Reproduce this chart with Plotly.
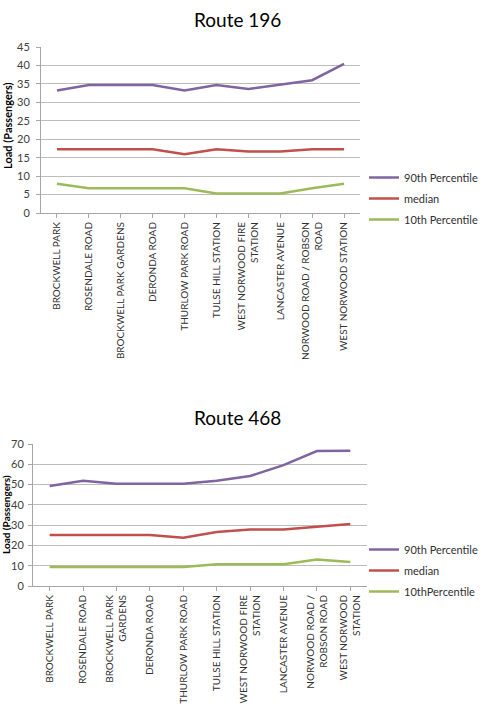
import plotly.graph_objects as go

W, H = 483, 707

stops_196 = ["BROCKWELL PARK", "ROSENDALE ROAD", "BROCKWELL PARK GARDENS", "DERONDA ROAD",
             "THURLOW PARK ROAD", "TULSE HILL STATION", "WEST NORWOOD FIRE<br>STATION",
             "LANCASTER AVENUE", "NORWOOD ROAD / ROBSON<br>ROAD", "WEST NORWOOD STATION"]
p90_196 = [33.2, 34.7, 34.7, 34.7, 33.2, 34.7, 33.6, 34.7, 36.0, 40.4]
med_196 = [17.3, 17.3, 17.3, 17.3, 15.9, 17.3, 16.7, 16.7, 17.3, 17.3]
p10_196 = [7.9, 6.7, 6.7, 6.7, 6.7, 5.3, 5.3, 5.3, 6.7, 7.9]

stops_468 = ["BROCKWELL PARK", "ROSENDALE ROAD", "BROCKWELL PARK<br>GARDENS", "DERONDA ROAD",
             "THURLOW PARK ROAD", "TULSE HILL STATION", "WEST NORWOOD FIRE<br>STATION",
             "LANCASTER AVENUE", "NORWOOD ROAD /<br>ROBSON ROAD", "WEST NORWOOD<br>STATION"]
p90_468 = [49.3, 51.9, 50.4, 50.4, 50.4, 51.9, 54.2, 59.6, 66.5, 66.7]
med_468 = [25.1, 25.1, 25.1, 25.1, 23.8, 26.6, 27.9, 27.9, 29.2, 30.6]
p10_468 = [9.4, 9.4, 9.4, 9.4, 9.4, 10.7, 10.7, 10.7, 13.1, 11.8]

PURPLE, RED, GREEN = "#8064A2", "#C0504D", "#9BBB59"
FONT = "Lato"
idx = list(range(10))

fig = go.Figure()
for name, vals, col in [("90th Percentile", p90_196, PURPLE), ("median", med_196, RED),
                        ("10th Percentile", p10_196, GREEN)]:
    fig.add_trace(go.Scatter(x=idx, y=vals, mode="lines", name=name, line=dict(color=col, width=2.5),
                             xaxis="x", yaxis="y", legend="legend", legendgroup=name + "a"))
for name, vals, col in [("90th Percentile", p90_468, PURPLE), ("median", med_468, RED),
                        ("10thPercentile", p10_468, GREEN)]:
    fig.add_trace(go.Scatter(x=idx, y=vals, mode="lines", name=name, line=dict(color=col, width=2.5),
                             xaxis="x2", yaxis="y2", legend="legend2", legendgroup=name + "b"))

def px(x): return x / W
def py(y): return 1 - y / H

xcommon = dict(tickmode="array", tickvals=idx, range=[-0.5, 9.5], tickangle=-90,
               showgrid=False, showline=True, linecolor="#a6a6a6", ticks="outside",
               ticklen=4, tickcolor="#a6a6a6", zeroline=False, automargin=False,
               tickfont=dict(family=FONT, size=10, color="#303030"))
ycommon = dict(showgrid=True, gridcolor="#bcbcbc", gridwidth=1, showline=True, linecolor="#a6a6a6",
               ticks="outside", ticklen=4, tickcolor="#a6a6a6", zeroline=False, automargin=False,
               tickfont=dict(family=FONT, size=11, color="#404040"))

fig.update_layout(
    width=W, height=H, margin=dict(l=0, r=0, t=0, b=0, autoexpand=False),
    paper_bgcolor="white", plot_bgcolor="white", showlegend=True,
    xaxis=dict(domain=[px(41), px(360)], anchor="y", ticktext=stops_196, **xcommon),
    yaxis=dict(domain=[py(213), py(47)], anchor="x", range=[0, 45], dtick=5,
               ticklabelstandoff=4, **ycommon),
    xaxis2=dict(domain=[px(33), px(367)], anchor="y2", ticktext=stops_468, **xcommon),
    yaxis2=dict(domain=[py(586), py(444)], anchor="x2", range=[0, 70], dtick=10,
                ticklabelstandoff=2, **ycommon),
    legend=dict(x=1, y=py(163), xanchor="right", yanchor="top", traceorder="grouped",
                tracegroupgap=2, font=dict(family=FONT, size=11, color="#303030"),
                bgcolor="rgba(0,0,0,0)"),
    legend2=dict(x=1, y=py(535), xanchor="right", yanchor="top", traceorder="grouped",
                 tracegroupgap=2, font=dict(family=FONT, size=11, color="#303030"),
                 bgcolor="rgba(0,0,0,0)"),
    annotations=[
        dict(text="Route 196", x=px(237), y=py(20), xref="paper", yref="paper", showarrow=False,
             xanchor="center", yanchor="middle",
             font=dict(family=FONT, size=19, color="#000")),
        dict(text="Route 468", x=px(237), y=py(417), xref="paper", yref="paper", showarrow=False,
             xanchor="center", yanchor="middle",
             font=dict(family=FONT, size=19, color="#000")),
        dict(text="<b>Load (Passengers)</b>", x=px(8), y=py(126), xref="paper", yref="paper",
             xanchor="center", yanchor="middle",
             showarrow=False, textangle=-90, font=dict(family=FONT, size=11, color="#000")),
        dict(text="<b>Load (Passengers)</b>", x=px(6), y=py(515), xref="paper", yref="paper",
             xanchor="center", yanchor="middle",
             showarrow=False, textangle=-90, font=dict(family=FONT, size=10, color="#000")),
    ],
)

fig.write_html("out.html")
